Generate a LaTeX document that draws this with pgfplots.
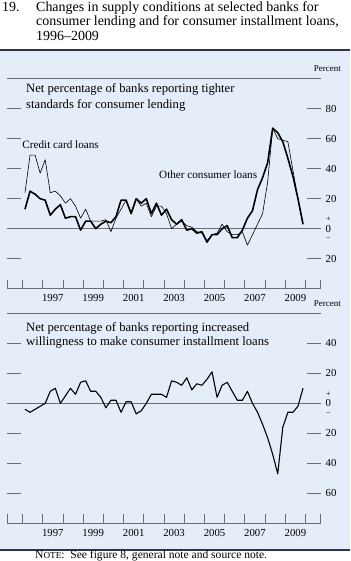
\documentclass[border=0pt]{standalone}
\usepackage{pgfplots}
\pgfplotsset{compat=1.18}
\usepackage{pgfplotstable}
\usepackage{fontspec}
\setmainfont{Liberation Serif}

\definecolor{bgblue}{RGB}{229,237,248}
\definecolor{rulegray}{RGB}{105,110,120}
\definecolor{darkrule}{RGB}{45,55,75}

\pgfplotstableread{
x cc oc
1996.125 24 13
1996.375 49 25
1996.625 49 23
1996.875 37 20
1997.125 46 19
1997.375 24 9
1997.625 25 13
1997.875 22 16
1998.125 17 7
1998.375 20 8
1998.625 15 8
1998.875 7 -1
1999.125 13 5
1999.375 5 5
1999.625 5 0
1999.875 5 3
2000.125 6 5
2000.375 -2 4
2000.625 7 8
2000.875 13 19
2001.125 19 19
2001.375 11 10
2001.625 20 20
2001.875 15 17
2002.125 17 20
2002.375 8 10
2002.625 15 17
2002.875 15 9
2003.125 10 13
2003.375 0 6
2003.625 3 3
2003.875 5 6
2004.125 2 -1
2004.375 1 0
2004.625 -2 -3
2004.875 -3 -2
2005.125 -8 -9
2005.375 -4 -4
2005.625 -3 -4
2005.875 3 0
2006.125 -2 2
2006.375 -4 -6
2006.625 -4 -6
2006.875 -2 -1
2007.125 -11 7
2007.375 -4 12
2007.625 3 26
2007.875 10 34
2008.125 31 44
2008.375 67 67
2008.625 60 64
2008.875 59 58
2009.125 58 47
2009.375 39 35
2009.625 20 20
2009.875 3 3
}\topdata

\pgfplotstableread{
x inst
1996.125 -4
1996.375 -6
1996.625 -4
1996.875 -2
1997.125 0
1997.375 8
1997.625 10
1997.875 0
1998.125 5
1998.375 10
1998.625 6
1998.875 14
1999.125 15
1999.375 8
1999.625 8
1999.875 4
2000.125 -3
2000.375 2
2000.625 2
2000.875 -6
2001.125 1
2001.375 1
2001.625 -7
2001.875 -5
2002.125 0
2002.375 6
2002.625 6
2002.875 6
2003.125 4
2003.375 15
2003.625 14
2003.875 12
2004.125 17
2004.375 9
2004.625 13
2004.875 12
2005.125 16
2005.375 21
2005.625 4
2005.875 12
2006.125 14
2006.375 8
2006.625 2
2006.875 2
2007.125 8
2007.375 0
2007.625 -6
2007.875 -14
2008.125 -23
2008.375 -34
2008.625 -47
2008.875 -16
2009.125 -6
2009.375 -6
2009.625 -2
2009.875 10
}\botdata

\newcommand{\pmzero}{\raisebox{2.5bp}{\begin{tabular}{@{}c@{}}\fontsize{8}{8}\selectfont +\\[-1.5bp]0\\[-3.5bp]\fontsize{8}{8}\selectfont −\end{tabular}}}

\pgfplotsset{
  fedaxis/.style={
    scale only axis, width=313.4bp, height=210bp,
    anchor=south west,
    xmin=1995.25, xmax=2010.75,
    separate axis lines,
    x axis line style={draw=rulegray, line width=0.8bp},
    y axis line style={draw=none},
    tick align=inside,
    tick style={rulegray, line width=0.8bp},
    xtick style={/pgfplots/major tick length=9bp},
    ytick style={/pgfplots/major tick length=14bp},
    xtick={1995.25,1996,1997,1998,1999,2000,2001,2002,2003,2004,2005,2006,2007,2008,2009,2010,2010.75},
    xticklabels={},
    xtick pos=left,
    ytick pos=both,
    yticklabel pos=right,
    yticklabel style={anchor=west, xshift=1.5bp, inner ysep=0pt},
    extra x ticks={1997.5,1999.5,2001.5,2003.5,2005.5,2007.5,2009.5},
    extra x tick labels={1997,1999,2001,2003,2005,2007,2009},
    extra x tick style={/pgfplots/major tick length=0pt, tick style={draw=none}, xticklabel style={anchor=base, yshift=-13bp}},
    tick label style={font=\fontsize{10.8}{12}\selectfont, text=black},
    line join=round,
  }
}

\begin{document}
\begin{tikzpicture}[x=1bp,y=1bp]
\useasboundingbox (0,0) rectangle (350,561);
\fill[bgblue] (0,11) rectangle (350,511);
\draw[darkrule, line width=1.2bp] (0,511) -- (350,511);
\draw[darkrule, line width=1.2bp] (0,11) -- (350,11);

% Title
\begin{scope}[every node/.style={anchor=base west, inner sep=0, font=\fontsize{14}{15}\selectfont}]
\node at (2,549.5) {19.};
\node at (36,549.5) {Changes in supply conditions at selected banks for};
\node at (36,535) {consumer lending and for consumer installment loans,};
\node at (36,520.5) {1996–2009};
\end{scope}

% Panel texts
\node[anchor=base east, inner sep=0, font=\fontsize{9}{10}\selectfont] at (341,489) {Percent};
\begin{scope}[every node/.style={anchor=base west, inner sep=0, font=\fontsize{12.7}{14}\selectfont}]
\node at (26,468) {Net percentage of banks reporting tighter};
\node at (26,452) {standards for consumer lending};
\node at (26,229.5) {Net percentage of banks reporting increased};
\node at (26,215) {willingness to make consumer installment loans};
\end{scope}
\node[anchor=base west, inner sep=0, font=\fontsize{11.2}{12}\selectfont] at (22.3,412.5) {Credit card loans};
\node[anchor=base west, inner sep=0, font=\fontsize{11.2}{12}\selectfont] at (159,382) {Other consumer loans};
\node[anchor=base east, inner sep=0, font=\fontsize{9}{10}\selectfont] at (341,254) {Percent};

% Top axis
\begin{axis}[fedaxis, at={(7.3bp,272.3bp)},
  ymin=-40, ymax=100,
  ytick={-20,0,20,40,60,80},
  yticklabels={20,\pmzero,20,40,60,80}]
\addplot[rulegray, line width=0.8bp, forget plot] coordinates {(1995.25,0) (2010.75,0)};
\addplot[black, line width=0.6bp] table[x=x, y=cc] {\topdata};
\addplot[black, line width=1.6bp] table[x=x, y=oc] {\topdata};
\end{axis}

% Bottom axis
\begin{axis}[fedaxis, at={(7.3bp,37.7bp)},
  ymin=-80, ymax=60,
  ytick={-60,-40,-20,0,20,40},
  yticklabels={60,40,20,\pmzero,20,40}]
\addplot[rulegray, line width=0.8bp, forget plot] coordinates {(1995.25,0) (2010.75,0)};
\addplot[black, line width=1.1bp] table[x=x, y=inst] {\botdata};
\end{axis}

% Note
\node[anchor=base west, inner sep=0, font=\fontsize{11.6}{12}\selectfont] at (35,2.5) {N{\fontsize{9.2}{10}\selectfont OTE}:\ \ See figure 8, general note and source note.};
\end{tikzpicture}
\end{document}
